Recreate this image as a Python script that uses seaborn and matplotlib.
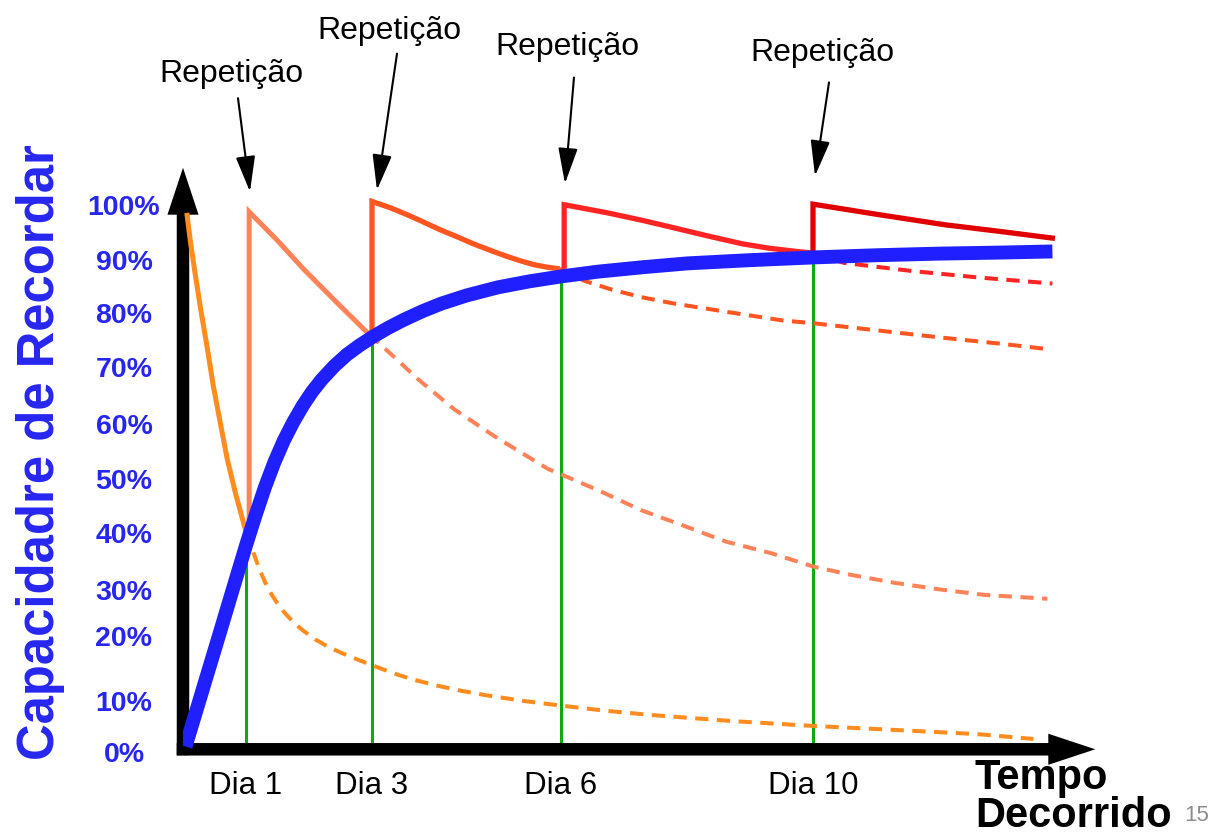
import seaborn as sns
import matplotlib.pyplot as plt
import pandas as pd

# ---- valores (dia x % de recordação) ----
rep_dias = [1, 3, 6, 10]
rep_labels = ['Dia 1', 'Dia 3', 'Dia 6', 'Dia 10']
verde_topo = [38.0, 75.3, 87.2, 90.5]

ytick_pos = [-0.5, 8.8, 20.9, 29.3, 39.8, 49.8, 59.9, 70.3, 80.2, 90.0, 100.1]
ytick_lbl = ['0%', '10%', '20%', '30%', '40%', '50%', '60%', '70%', '80%', '90%', '100%']

# 1a curva de esquecimento
laranja_dia = [0.06, 0.12, 0.19, 0.28, 0.38, 0.48, 0.59, 0.70, 0.84, 1.0]
laranja_pct = [98.7, 93.2, 87.7, 81.0, 74.2, 66.9, 60.2, 53.5, 46.8, 40.0]
laranja_tr_dia = [1.0, 1.1, 1.2, 1.3, 1.4, 1.5, 1.6, 1.75, 1.9, 2.1, 2.3, 2.52, 2.75, 2.97, 3.2,
                  3.44, 3.7, 4.0, 4.4, 4.78, 5.4, 6.03, 6.7, 7.44, 8.7, 10.0, 11.4, 12.6, 13.5]
laranja_tr_pct = [40.0, 36.8, 33.5, 30.8, 28.6, 26.8, 25.3, 23.4, 21.9, 20.2, 18.9, 17.7, 16.6, 15.6, 14.6,
                  13.6, 12.7, 11.8, 10.8, 10.0, 8.9, 8.0, 7.1, 6.3, 5.2, 4.3, 3.5, 2.8, 1.9]

# 2a (após dia 1)
salmao_dia = [1.05, 1.05, 1.5, 1.91, 2.45, 2.95]
salmao_pct = [40.0, 98.9, 93.6, 88.4, 82.1, 76.4]
salmao_tr_dia = [2.95, 3.35, 3.73, 4.30, 4.93, 5.79, 6.04, 6.64, 7.27, 7.91, 8.62, 9.33, 10.01, 10.6, 11.31, 12.02, 12.73, 13.72]
salmao_tr_pct = [76.4, 72.2, 68.1, 62.6, 57.7, 51.6, 50.4, 47.4, 44.0, 41.3, 38.2, 36.1, 33.6, 32.1, 30.6, 29.4, 28.4, 27.7]

# 3a (após dia 3)
verm1_dia = [3.0, 3.0, 3.3, 3.55, 3.8, 4.08, 4.35, 4.61, 4.9, 5.14, 5.35, 5.56, 5.78, 5.98]
verm1_pct = [76.0, 100.8, 99.6, 98.4, 97.1, 95.6, 94.3, 93.0, 91.7, 90.7, 89.9, 89.2, 88.7, 88.4]
verm1_tr_dia = [5.98, 6.37, 6.8, 7.27, 7.8, 8.35, 8.9, 9.52, 10.0, 11.0, 12.0, 13.0, 13.75]
verm1_tr_pct = [88.4, 86.2, 84.6, 83.2, 82.0, 81.0, 80.0, 78.9, 78.4, 77.1, 75.8, 74.6, 73.6]

# 4a (após dia 6)
verm2_dia = [6.05, 6.05, 6.74, 7.3, 7.81, 8.35, 8.88, 9.3, 9.74, 10.0]
verm2_pct = [88.4, 100.2, 98.7, 97.3, 95.9, 94.4, 93.0, 92.2, 91.6, 91.3]
verm2_tr_dia = [10.0, 10.49, 11.57, 12.64, 13.8]
verm2_tr_pct = [91.3, 89.5, 88.0, 86.8, 85.7]

# 5a (após dia 10)
verm3_dia = [10.0, 10.0, 11.03, 12.1, 12.96, 13.84]
verm3_pct = [91.3, 100.3, 98.4, 96.5, 95.3, 94.0]

# curva azul (retenção com repetição)
azul_dia = [0.04, 0.3, 0.56, 0.8, 1.0, 1.15, 1.3, 1.45, 1.6, 1.75, 1.9, 2.05, 2.2, 2.4, 2.6, 2.8, 3.0,
            3.25, 3.5, 3.8, 4.1, 4.5, 5.0, 5.5, 6.0, 6.6, 7.3, 8.0, 9.0, 10.0, 11.0, 12.0, 13.0, 13.8]
azul_pct = [0.5, 10.5, 20.5, 29.8, 37.5, 43.0, 48.2, 52.8, 56.8, 60.2, 63.2, 65.8, 68.0, 70.5, 72.6, 74.3, 75.8,
            77.5, 79.0, 80.6, 82.0, 83.5, 85.0, 86.1, 87.0, 87.9, 88.7, 89.4, 90.0, 90.5, 90.9, 91.2, 91.4, 91.6]

# setas "Repetição": posição do texto, início e ponta da seta
rep_txt_xy = [(0.762, 124.2), (3.273, 132.2), (6.103, 129.3), (10.151, 128.1)]
rep_ini_xy = [(0.873, 119.8), (3.397, 128.0), (6.206, 123.6), (10.254, 122.7)]
rep_fim_xy = [(1.063, 102.6), (3.079, 102.9), (6.063, 104.1), (10.032, 105.5)]

sns.set_style('white')
plt.rcParams['font.family'] = ['Liberation Sans', 'DejaVu Sans']
plt.rcParams['text.color'] = 'black'
plt.rcParams['xtick.color'] = 'black'

AZUL_TXT = '#2626F0'
fig = plt.figure(figsize=(12.13, 8.34), dpi=100)
ax = fig.add_axes([0.15087, 0.09832, 0.75828, 0.70705])


def curva(dia, pct, cor, lw, tracejado=False, z=3):
    df = pd.DataFrame({'dia': dia, 'pct': pct})
    ls = (0, (3.3, 2.1)) if tracejado else '-'
    sns.lineplot(data=df, x='dia', y='pct', estimator=None, sort=False, ax=ax,
                 color=cor, linewidth=lw, linestyle=ls, zorder=z,
                 solid_joinstyle='miter', solid_capstyle='butt')


# linhas verdes nos dias de repetição
ax.vlines(rep_dias, 0, verde_topo, colors='#12A812', linewidth=2.2, zorder=1)

# tracejados (esquecimento sem repetição)
curva(laranja_tr_dia, laranja_tr_pct, '#FF8C1F', 2.9, True, 2)
curva(salmao_tr_dia, salmao_tr_pct, '#FF8258', 2.9, True, 2)
curva(verm1_tr_dia, verm1_tr_pct, '#FF5521', 2.9, True, 2)
curva(verm2_tr_dia, verm2_tr_pct, '#FF2424', 2.9, True, 2)

# curvas sólidas
curva(laranja_dia, laranja_pct, '#FF8C1F', 3.6)
curva(salmao_dia, salmao_pct, '#FF8258', 3.6)
curva(verm1_dia, verm1_pct, '#FF5521', 3.8)
curva(verm2_dia, verm2_pct, '#FF2424', 3.8)
curva(verm3_dia, verm3_pct, '#E00000', 3.8)
curva(azul_dia, azul_pct, '#1F1FFF', 10, z=6)

# eixos com setas pretas
seta_eixo = dict(arrowstyle='simple,head_length=1.69,head_width=1.12,tail_width=0.45',
                 mutation_scale=20, fc='k', ec='k', lw=0, shrinkA=0, shrinkB=0)
ax.annotate('', xy=(0, 107.0), xytext=(0, -1.1), arrowprops=seta_eixo, zorder=1.5)
ax.annotate('', xy=(14.48, 0), xytext=(-0.1, 0), arrowprops=seta_eixo, zorder=1.5)

# anotações "Repetição"
for txy, ixy, fxy in zip(rep_txt_xy, rep_ini_xy, rep_fim_xy):
    ax.text(txy[0], txy[1], 'Repetição', fontsize=23, ha='center', va='center')
    ax.annotate('', xy=fxy, xytext=ixy, annotation_clip=False,
                arrowprops=dict(arrowstyle='-|>,head_length=1.1,head_width=0.3',
                                mutation_scale=20, lw=1.5, color='k', shrinkA=0, shrinkB=0))

ax.set_xlim(0, 14.6)
ax.set_ylim(0, 108)
for s in ax.spines.values():
    s.set_visible(False)

ax.set_xticks(rep_dias, rep_labels, fontsize=22.5)
ax.tick_params(axis='x', length=0, pad=13.5)
ax.set_yticks(ytick_pos, ytick_lbl, fontsize=20.5, fontweight='bold', color=AZUL_TXT)
ax.tick_params(axis='y', length=0, pad=42.5)
for lbl in ax.get_yticklabels():
    lbl.set_horizontalalignment('center')

ax.set_xlabel('')
ax.set_ylabel('Capacidadre de Recordar', fontsize=36.5, fontweight='bold',
              color=AZUL_TXT, va='center')
ax.yaxis.set_label_coords(-0.1545, 0.5087)

ax.text(12.57, -7.27, 'Tempo', fontsize=30, fontweight='bold', va='baseline', ha='left')
ax.text(12.57, -14.29, 'Decorrido', fontsize=30, fontweight='bold', va='baseline', ha='left')
ax.text(15.9, -13.2, '15', fontsize=16, color='#8C8C8C', va='baseline', ha='left')

fig.savefig('out.png', dpi=100)
plt.close(fig)
